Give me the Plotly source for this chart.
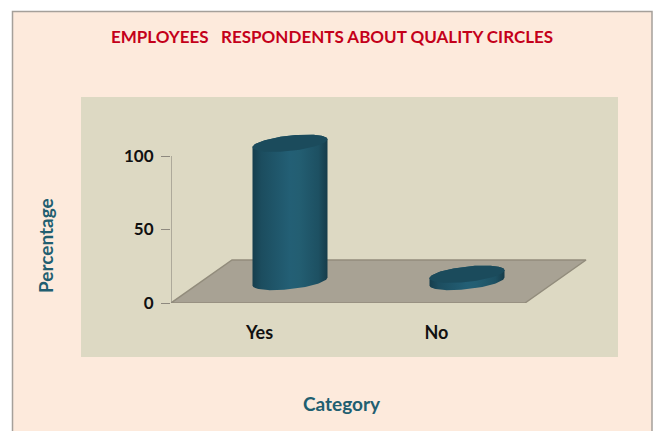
import numpy as np
import plotly.graph_objects as go

categories = ["Yes", "No"]
percentages = [95, 5]
y_ticks = [0, 50, 100]
title_text = "EMPLOYEES\u00a0\u00a0\u00a0RESPONDENTS ABOUT QUALITY CIRCLES"
x_title = "Category"
y_title = "Percentage"

W, H = 655, 431
X0, X1 = 171, 525      # pixel extent of the two category slots
Y0, Y1 = 303, 156      # pixel positions of 0 and 100
XR, YT = 600, 125      # pixel extent of the plot area (room for depth and cylinder tops)
PX_X = (X1 - X0) / 2   # pixels per category
PX_Y = (Y0 - Y1) / 100 # pixels per percent
DEPTH_X = 61 / PX_X    # floor depth, in axis units
DEPTH_Y = 43 / PX_Y
FORESHORTEN = 0.99
A, B, SHEAR = 37.5 / PX_X, 7.7 / PX_Y, 4.0 / PX_Y  # ellipse shape

BODY = [[0, "#163E4D"], [0.12, "#1C4D5F"], [0.5, "#235F75"], [0.62, "#235E72"],
        [0.88, "#1D5062"], [1, "#163C4A"]]
CAP = "#1B4B5C"

t = np.linspace(0, 2 * np.pi, 121)
front = np.linspace(np.pi, 2 * np.pi, 61)  # front half, left to right
back = np.linspace(0, np.pi, 61)           # back half, right to left


def ell_x(cx, angles):
    return cx + A * np.cos(angles)


def ell_y(cy, angles):
    return cy + B * np.sin(angles) + SHEAR * np.cos(angles)


fig = go.Figure()

# floor
fx = [-0.5, 1.5, 1.5 + DEPTH_X, -0.5 + DEPTH_X, -0.5]
fy = [0, 0, DEPTH_Y, DEPTH_Y, 0]
fig.add_trace(go.Scatter(x=fx, y=fy, mode="lines", fill="toself", fillcolor="#A8A294",
                         line=dict(color="#928C7C", width=1.5), cliponaxis=False,
                         hoverinfo="skip", showlegend=False))
# value axis line, stopping at the top tick
fig.add_trace(go.Scatter(x=[-0.5, -0.5], y=[y_ticks[0], y_ticks[-1]], mode="lines",
                         line=dict(color="#8E897F", width=1.2), cliponaxis=False,
                         hoverinfo="skip", showlegend=False))

for i, (cat, val) in enumerate(zip(categories, percentages)):
    cx = i + DEPTH_X / 2
    base = DEPTH_Y / 2
    top = base + val * FORESHORTEN
    bx = np.concatenate([ell_x(cx, front), ell_x(cx, back)])
    by = np.concatenate([ell_y(base, front), ell_y(top, back)])
    bx = np.append(bx, bx[0])
    by = np.append(by, by[0])
    fig.add_trace(go.Scatter(
        x=bx, y=by, mode="lines", fill="toself", line=dict(width=0), cliponaxis=False,
        fillgradient=dict(type="horizontal", colorscale=BODY, start=cx - A, stop=cx + A),
        hoverinfo="skip", showlegend=False, name=cat))
    fig.add_trace(go.Scatter(
        x=ell_x(cx, t), y=ell_y(top, t), mode="lines", fill="toself", fillcolor=CAP,
        line=dict(width=0), cliponaxis=False, hoverinfo="skip", showlegend=False, name=cat))

fig.update_layout(
    width=W, height=H, autosize=False,
    margin=dict(l=0, r=0, t=0, b=0, autoexpand=False),
    paper_bgcolor="#FFFFFF", plot_bgcolor="rgba(0,0,0,0)",
    font=dict(family="Lato", color="#111111"),
    showlegend=False,
    shapes=[
        dict(type="rect", xref="paper", yref="paper", x0=12.5 / W, x1=652 / W,
             y0=-0.05, y1=1 - 11.5 / H, fillcolor="#FDEADC",
             line=dict(color="#A5A09A", width=1.5), layer="below"),
        dict(type="rect", xref="paper", yref="paper", x0=81 / W, x1=618 / W,
             y0=1 - 357 / H, y1=1 - 97 / H, fillcolor="#DDD9C3",
             line=dict(width=0), layer="below"),
    ],
    xaxis=dict(domain=[X0 / W, XR / W], range=[-0.5, -0.5 + (XR - X0) / PX_X], tickvals=[0, 1],
               ticktext=categories, automargin=False,
               ticks="outside", ticklen=13, tickcolor="rgba(0,0,0,0)", showgrid=False,
               zeroline=False, showline=False, fixedrange=True,
               tickfont=dict(family="Lato", size=18, color="#111111", weight="bold")),
    yaxis=dict(domain=[1 - Y0 / H, 1 - YT / H], range=[0, (Y0 - YT) / PX_Y], tickvals=y_ticks,
               automargin=False, ticklabelstandoff=4,
               ticks="outside", ticklen=9, tickcolor="#8E897F", showgrid=False,
               zeroline=False, showline=False, fixedrange=True,
               tickfont=dict(family="Lato", size=17, color="#111111", weight="bold")),
    annotations=[
        dict(text=f"<b>{title_text}</b>", xref="paper", yref="paper", x=332 / W, y=1 - 36 / H,
             showarrow=False, xanchor="center", yanchor="middle",
             font=dict(family="Lato", size=17, color="#C4001A")),
        dict(text=f"<b>{x_title}</b>", xref="paper", yref="paper", x=342 / W, y=1 - 403 / H,
             showarrow=False, xanchor="center", yanchor="middle",
             font=dict(family="Lato", size=19, color="#215E70")),
        dict(text=f"<b>{y_title}</b>", xref="paper", yref="paper", x=46 / W, y=1 - 246 / H,
             showarrow=False, xanchor="center", yanchor="middle", textangle=-90,
             font=dict(family="Lato", size=19, color="#215E70")),
    ],
)

fig.write_html("out.html", config={"displayModeBar": False},
               post_script="document.body.style.margin='0';")
